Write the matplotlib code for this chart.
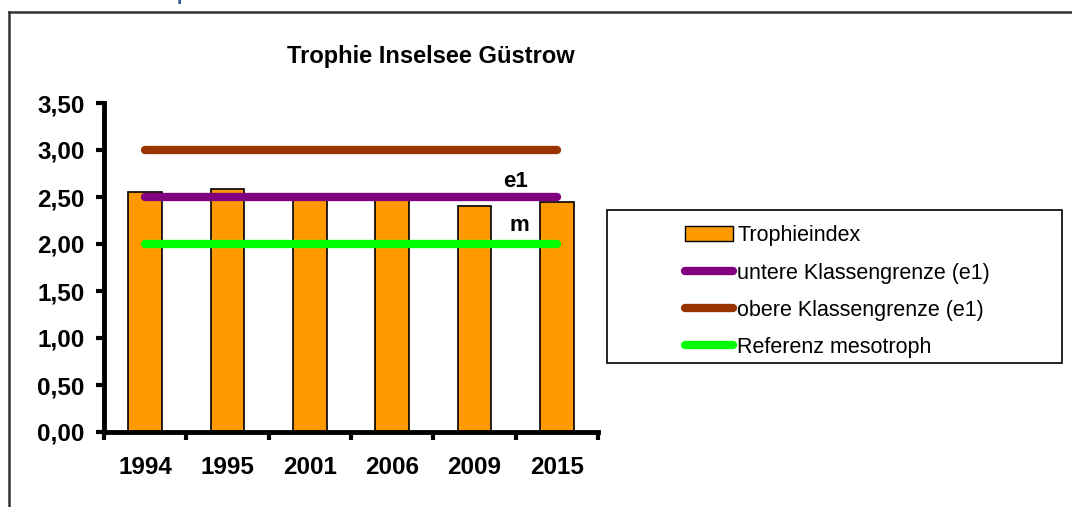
import numpy as np
import matplotlib
matplotlib.use("Agg")
import matplotlib.pyplot as plt
from matplotlib.lines import Line2D
from matplotlib.patches import Rectangle, Patch

plt.rcParams['font.family'] = ['Liberation Sans', 'DejaVu Sans']

years = ["1994", "1995", "2001", "2006", "2009", "2015"]
trophie = [2.55, 2.59, 2.48, 2.48, 2.40, 2.45]
untere = [2.5] * 6
obere = [3.0] * 6
referenz = [2.0] * 6
yticks = [0.0, 0.5, 1.0, 1.5, 2.0, 2.5, 3.0, 3.5]

fig = plt.figure(figsize=(10.72, 5.07), dpi=100)
ax = fig.add_axes([104 / 1072, 1 - 432 / 507, 494 / 1072, 329 / 507])

x = np.arange(len(years))
bars = ax.bar(x, trophie, width=0.41, color="#FF9900", edgecolor="black", linewidth=1.2, zorder=2)
l1, = ax.plot(x, untere, color="#800080", lw=6, solid_capstyle="round", zorder=3)
l2, = ax.plot(x, obere, color="#993300", lw=6, solid_capstyle="round", zorder=3)
l3, = ax.plot(x, referenz, color="#00FF00", lw=6, solid_capstyle="round", zorder=3)

ax.text(4.5, 2.67, "e1", fontsize=16, fontweight="bold", ha="center", va="center")
ax.text(4.55, 2.2, "m", fontsize=16, fontweight="bold", ha="center", va="center")

ax.set_xlim(-0.5, 5.5)
ax.set_ylim(0, 3.5)
ax.set_yticks(yticks)
ax.set_yticklabels([f"{v:.2f}".replace(".", ",") for v in yticks], fontsize=17.5, fontweight="bold")
ax.set_xticks(x)
ax.set_xticklabels(years, fontsize=17.5, fontweight="bold")
ax.set_xticks(np.arange(-0.5, 6, 1), minor=True)
ax.tick_params(axis="x", which="major", length=0, pad=17)
ax.tick_params(axis="x", which="minor", length=6, width=3, direction="out")
ax.tick_params(axis="y", length=6, width=3, direction="out", pad=8)
for s in ["top", "right"]:
    ax.spines[s].set_visible(False)
for s in ["left", "bottom"]:
    ax.spines[s].set_linewidth(3.5)

fig.text(431 / 1072, 1 - 56 / 507, "Trophie Inselsee Güstrow", fontsize=17, fontweight="bold",
         ha="center", va="center")

# legend box
fig.add_artist(Rectangle((607 / 1072, 1 - 363 / 507), 455 / 1072, 153 / 507,
                         transform=fig.transFigure, fill=False, edgecolor="black", lw=1.2))
handles = [Patch(facecolor="#FF9900", edgecolor="black"), l1, l2, l3]
labels = ["Trophieindex", "untere Klassengrenze (e1)", "obere Klassengrenze (e1)", "Referenz mesotroph"]
fig.legend(handles, labels, loc="upper left", bbox_to_anchor=(666 / 1072, 1 - 206 / 507),
           frameon=False, fontsize=15.5, handlelength=2.2, handletextpad=0.2, labelspacing=0.75)

# outer frame
fig.add_artist(Line2D([9 / 1072, 1], [1 - 12 / 507, 1 - 12 / 507], transform=fig.transFigure,
                      color="#333333", lw=1.8))
fig.add_artist(Line2D([9 / 1072, 9 / 1072], [0, 1 - 12 / 507], transform=fig.transFigure,
                      color="#333333", lw=1.8))
fig.text(183 / 1072, 1 + 4 / 507, "p", color="#2E5A9A", fontsize=14, fontweight="bold",
         ha="center", va="center")

fig.savefig("out.png", dpi=100)
